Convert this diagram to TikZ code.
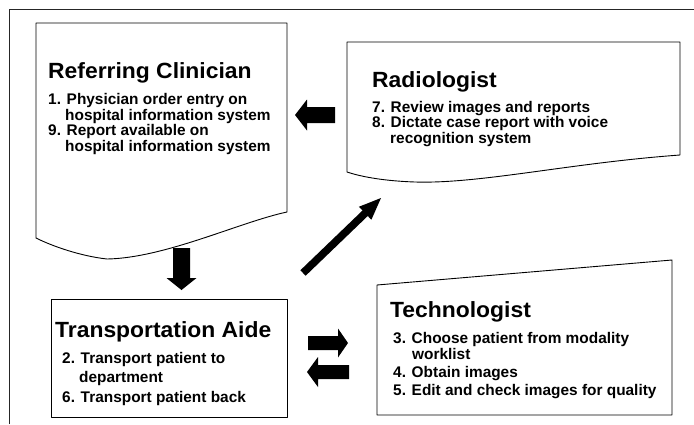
\documentclass[tikz,border=0pt]{standalone}
\usepackage{fontspec}
\setmainfont{Liberation Sans}
\newfontfamily\ttlfont[FakeStretch=1.04]{Liberation Sans}
\usetikzlibrary{calc}
\tikzset{
  frameline/.style={line width=0.8pt, draw=black!85},
  box/.style={draw=black, line width=0.9pt, line join=round},
  ttl/.style={anchor=base west, inner sep=0pt, font=\ttlfont\bfseries\fontsize{22}{26}\selectfont},
  itm/.style={anchor=base west, inner sep=0pt, font=\bfseries\fontsize{15.4}{18}\selectfont},
  fat/.style={fill=black},
}
\newcommand\fatarrow[5]{%
  \coordinate (fh) at ($(#2)!#5!(#1)$);
  \fill[fat] ($(#1)!#3!90:(#2)$) -- ($(fh)!#3!-90:(#1)$) -- ($(fh)!#4!-90:(#1)$) -- (#2)
    -- ($(fh)!#4!90:(#1)$) -- ($(fh)!#3!90:(#1)$) -- ($(#1)!#3!-90:(#2)$) -- cycle;}
\begin{document}
\begin{tikzpicture}[x=1pt,y=-1pt]
\useasboundingbox (0,0) rectangle (694,424);
\fill[white] (0,0) rectangle (694,424);
% outer frame (cropped at right and bottom)
\draw[frameline] (9,424) -- (9,9) -- (694,9);

% Referring Clinician (document shape)
\draw[box] (36,23) -- (287,23) -- (287,212)
  .. controls (240,222) and (165,258) .. (107,259)
  .. controls (80,256) and (52,246) .. (36,238) -- cycle;
\node[ttl] (rc) at (48,78) {Referring Clinician};
\node[itm] (rc1) at (48,104) {1. Physician order entry on};
\node[itm] (rc1b) at (65,120) {hospital information system};
\node[itm] (rc9) at (48,135) {9. Report available on};
\node[itm] (rc9b) at (65,151) {hospital information system};

% Radiologist (document shape)
\draw[box] (347,42) -- (680,42) -- (680,155)
  .. controls (570,163) and (480,184) .. (415,182)
  .. controls (385,181) and (362,177) .. (347,172) -- cycle;
\node[ttl] (rad) at (372,87) {Radiologist};
\node[itm] (rad7) at (372,112) {7. Review images and reports};
\node[itm] (rad8) at (372,127) {8. Dictate case report with voice};
\node[itm] (rad8b) at (390,143) {recognition system};

% Transportation Aide
\draw[box] (51,299) rectangle (287,417);
\node[ttl] (ta) at (55,337) {Transportation Aide};
\node[itm] (ta2) at (62,363) {2. Transport patient to};
\node[itm] (ta2b) at (79,382) {department};
\node[itm] (ta6) at (62,402) {6. Transport patient back};

% Technologist
\draw[box] (377,285) -- (672,260) -- (672,415) -- (377,415) -- cycle;
\node[ttl] (tech) at (390,317) {Technologist};
\node[itm] (tech3) at (393,343) {3. Choose patient from modality};
\node[itm] (tech3b) at (412,359) {worklist};
\node[itm] (tech4) at (393,377) {4. Obtain images};
\node[itm] (tech5) at (393,395) {5. Edit and check images for quality};

% block arrows
\coordinate (a1s) at (335,115); \coordinate (a1e) at (295,115);
\fatarrow{a1s}{a1e}{8pt}{15.5pt}{12pt}
\coordinate (a2s) at (181.5,248); \coordinate (a2e) at (181.5,290);
\fatarrow{a2s}{a2e}{8.5pt}{15pt}{12pt}
\coordinate (a3s) at (303,273); \coordinate (a3e) at (381,198);
\fatarrow{a3s}{a3e}{3.8pt}{9pt}{22pt}
\coordinate (a4s) at (308,343); \coordinate (a4e) at (348,343);
\fatarrow{a4s}{a4e}{7pt}{14.5pt}{10pt}
\coordinate (a5s) at (349,372); \coordinate (a5e) at (307,372);
\fatarrow{a5s}{a5e}{7pt}{15pt}{11pt}
\end{tikzpicture}
\end{document}
